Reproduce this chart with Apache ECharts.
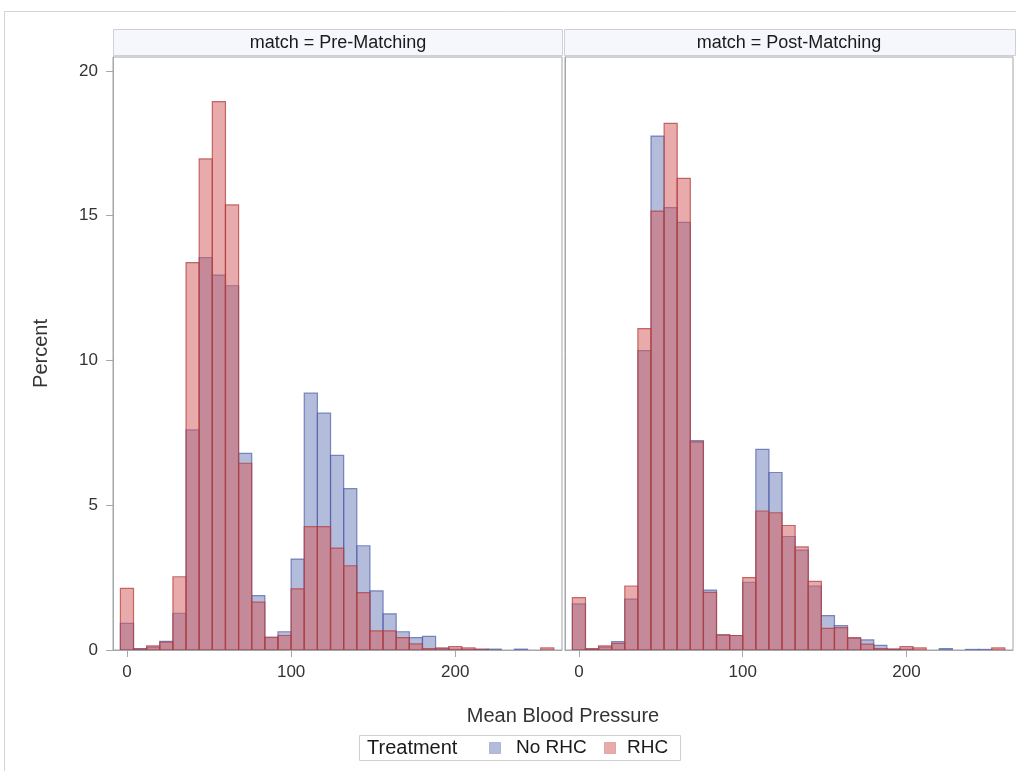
<!DOCTYPE html>
<html>
<head>
<meta charset="utf-8">
<script src="https://cdn.jsdelivr.net/npm/echarts@6/dist/echarts.min.js"></script>
<style>
html,body{margin:0;padding:0;background:#fff;}
#chart{width:1016px;height:771px;}
</style>
</head>
<body>
<div id="chart"></div>
<script>
// ---- data ----
var binWidth = 8;
var binCenters = [0,8,16,24,32,40,48,56,64,72,80,88,96,104,112,120,128,136,144,152,160,168,176,184,192,200,208,216,224,232,240,248,256];
var preNoRHC  = [0.92,0.05,0.10,0.30,1.27,7.60,13.55,12.95,12.58,6.79,1.88,0.44,0.63,3.14,8.87,8.18,6.72,5.57,3.60,2.04,1.25,0.63,0.43,0.47,0.05,0.03,0.02,0.03,0.03,0,0.03,0,0];
var preRHC    = [2.13,0.03,0.14,0.27,2.53,13.38,16.96,18.94,15.37,6.45,1.65,0.44,0.50,2.11,4.26,4.26,3.52,2.91,1.98,0.66,0.66,0.43,0.21,0.05,0.07,0.12,0.07,0.02,0,0,0,0,0.07];
var postNoRHC = [1.59,0.04,0.10,0.29,1.76,10.34,17.75,15.28,14.77,7.23,2.07,0.52,0.50,2.34,6.93,6.13,3.92,3.45,2.21,1.19,0.84,0.40,0.35,0.16,0.03,0.03,0,0,0.05,0,0.02,0.02,0];
var postRHC   = [1.81,0.04,0.14,0.23,2.21,11.10,15.16,18.19,16.29,7.19,1.99,0.52,0.50,2.50,4.80,4.74,4.30,3.56,2.37,0.75,0.77,0.43,0.20,0.05,0.03,0.12,0.07,0,0,0,0,0,0.07];
var panelTitles = ['match = Pre-Matching','match = Post-Matching'];
var seriesNames = ['No RHC','RHC'];
var legendTitle = 'Treatment';
var xTitle = 'Mean Blood Pressure';
var yTitle = 'Percent';
var xTicks = [0,100,200];
var yTicks = [0,5,10,15,20];

// ---- build ----
function bins(vals){
  var out = [];
  for (var i=0;i<binCenters.length;i++){
    if (vals[i] > 0) out.push([binCenters[i]-binWidth/2, binCenters[i]+binWidth/2, vals[i]]);
  }
  return out;
}
var blueFill = 'rgba(105,121,185,0.5)';
var blueLine = 'rgba(75,92,168,0.7)';
var redFill = 'rgba(211,92,92,0.52)';
var redLine = 'rgba(178,58,58,0.72)';
var font = 'Liberation Sans, Arial, sans-serif';

function renderBar(params, api){
  var p0 = api.coord([api.value(0), api.value(2)]);
  var p1 = api.coord([api.value(1), 0]);
  var st = params.seriesName === seriesNames[1] ? {fill:redFill, stroke:redLine, lineWidth:1.2} : {fill:blueFill, stroke:blueLine, lineWidth:1.2};
  return {
    type:'rect',
    shape:{x:p0[0], y:p0[1], width:p1[0]-p0[0], height:p1[1]-p0[1]},
    style: st
  };
}
function mkSeries(name, vals, idx){
  return {
    type:'custom', name:name, xAxisIndex:idx, yAxisIndex:idx,
    renderItem: renderBar, clip:true,
    encode:{x:[0,1], y:2},
    data: bins(vals)
  };
}
var axisGray = '#a4a8ab';
function xAxis(idx){
  return {
    type:'value', gridIndex:idx, min:-8.5, max:265,
    axisLine:{show:true, onZero:false, lineStyle:{color:axisGray}},
    axisTick:{show:true, length:7, customValues:xTicks, lineStyle:{color:axisGray}},
    axisLabel:{show:true, customValues:xTicks, color:'#333', fontSize:17, margin:14, fontFamily:font},
    splitLine:{show:false}
  };
}
function yAxis(idx){
  return {
    type:'value', gridIndex:idx, min:0, max:20.48,
    axisLine:{show:true, onZero:false, lineStyle:{color:axisGray}},
    axisTick:{show:idx===0, length:7, customValues:yTicks, lineStyle:{color:axisGray}},
    axisLabel:{show:idx===0, customValues:yTicks, color:'#333', fontSize:17, margin:15, fontFamily:font},
    splitLine:{show:false},
    name: idx===0 ? yTitle : '', nameLocation:'middle', nameRotate:90, nameGap:62,
    nameTextStyle:{color:'#333', fontSize:20, fontFamily:font}
  };
}
var chart = echarts.init(document.getElementById('chart'), null, {renderer:'canvas'});
var legendY = 748;
var option = {
  animation:false,
  backgroundColor:'#fff',
  grid:[
    {left:113, top:57, width:449, height:593, show:true, borderColor:'#a0a4a8', borderWidth:1, backgroundColor:'transparent'},
    {left:565, top:57, width:448, height:593, show:true, borderColor:'#a0a4a8', borderWidth:1, backgroundColor:'transparent'}
  ],
  xAxis:[xAxis(0), xAxis(1)],
  yAxis:[yAxis(0), yAxis(1)],
  series:[
    mkSeries(seriesNames[0], preNoRHC, 0),
    mkSeries(seriesNames[1], preRHC, 0),
    mkSeries(seriesNames[0], postNoRHC, 1),
    mkSeries(seriesNames[1], postRHC, 1)
  ],
  graphic:[
    {type:'rect', silent:true, shape:{x:4.5, y:11.5, width:1030, height:800}, style:{fill:'none', stroke:'#d4d4d4', lineWidth:1}},
    {type:'rect', silent:true, shape:{x:113.5, y:29.5, width:449, height:26}, style:{fill:'#f5f7fc', stroke:'#cdd1d6', lineWidth:1}},
    {type:'rect', silent:true, shape:{x:564.5, y:29.5, width:451, height:26}, style:{fill:'#f5f7fc', stroke:'#cdd1d6', lineWidth:1}},
    {type:'text', silent:true, x:338, y:43, style:{text:panelTitles[0], fill:'#1a1a1a', font:'18px '+font, align:'center', verticalAlign:'middle'}},
    {type:'text', silent:true, x:789, y:43, style:{text:panelTitles[1], fill:'#1a1a1a', font:'18px '+font, align:'center', verticalAlign:'middle'}},
    {type:'text', silent:true, x:563, y:716, style:{text:xTitle, fill:'#333', font:'20px '+font, align:'center', verticalAlign:'middle'}},
    {type:'rect', silent:true, shape:{x:359.5, y:735.5, width:321, height:25}, style:{fill:'none', stroke:'#cfcfcf', lineWidth:1}},
    {type:'text', silent:true, x:367, y:legendY, style:{text:legendTitle, fill:'#1a1a1a', font:'20px '+font, align:'left', verticalAlign:'middle'}},
    {type:'rect', silent:true, shape:{x:489.5, y:legendY-5.5, width:11, height:11}, style:{fill:blueFill, stroke:'rgba(75,92,168,0.3)', lineWidth:1}},
    {type:'text', silent:true, x:516, y:legendY, style:{text:seriesNames[0], fill:'#1a1a1a', font:'19px '+font, align:'left', verticalAlign:'middle'}},
    {type:'rect', silent:true, shape:{x:604.5, y:legendY-5.5, width:11, height:11}, style:{fill:redFill, stroke:'rgba(178,58,58,0.3)', lineWidth:1}},
    {type:'text', silent:true, x:627, y:legendY, style:{text:seriesNames[1], fill:'#1a1a1a', font:'19px '+font, align:'left', verticalAlign:'middle'}}
  ]
};
chart.setOption(option);
</script>
</body>
</html>
